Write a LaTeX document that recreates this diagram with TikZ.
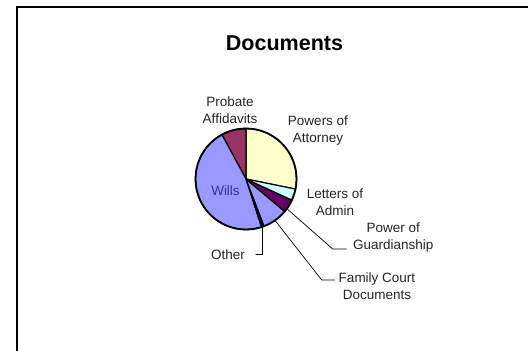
\documentclass[tikz,border=0pt]{standalone}
\usepackage{fontspec}
\setmainfont{Liberation Sans}
\usetikzlibrary{calc}
\definecolor{poa}{HTML}{FFFFCC}
\definecolor{prob}{HTML}{993366}
\definecolor{wills}{HTML}{9999FF}
\definecolor{othr}{HTML}{000080}
\definecolor{guard}{HTML}{660066}
\definecolor{lett}{HTML}{CCFFFF}
\definecolor{willtxt}{HTML}{333399}
\begin{document}
\begin{tikzpicture}[x=1pt,y=1pt,
  lbl/.style={inner sep=0pt,align=center,font=\fontsize{13.5}{17}\selectfont,text=black!85},
  slice/.style={draw=black,line width=1.2pt,line join=round},
  leader/.style={draw=black,line width=0.7pt}]
\useasboundingbox (0,0) rectangle (528,-351);
\fill[white] (0,0) rectangle (528,-351);
% frame
\draw[line width=1.8pt] (17,-351) -- (17,-7.3) -- (528,-7.3);
% title
\node[inner sep=0pt,font=\fontsize{21.5}{24}\selectfont\bfseries] (title) at (284.5,-43) {Documents};
% pie
\coordinate (C) at (246,-179);
\def\R{50.5}
\newcommand\pieslice[3]{\filldraw[slice,fill=#3] (C) -- ++(#1:\R) arc[start angle=#1,end angle=#2,radius=\R] -- cycle;}
\pieslice{-11.5}{90}{poa}
\pieslice{90}{118.5}{prob}
\pieslice{118.5}{288}{wills}
\pieslice{-72}{-69}{othr}
\pieslice{-69}{-40}{wills}
\pieslice{-40}{-24.7}{guard}
\pieslice{-24.7}{-11.5}{lett}
\draw[line width=1.8pt] (C) circle[radius=\R];
% labels
\node[lbl] (prob) at (230,-110.5) {Probate\\Affidavits};
\node[lbl] (poa) at (318,-131) {Powers of\\Attorney};
\node[lbl] (lett) at (335,-202) {Letters of\\Admin};
\node[lbl] (guard) at (393.3,-237.5) {Power of\\Guardianship};
\node[lbl] (fc) at (377,-285.7) {Family Court\\Documents};
\node[lbl,anchor=east] (other) at (245,-254.5) {Other};
\node[lbl,text=willtxt] (wills) at (225.5,-191) {Wills};
% leader lines
\coordinate (gs) at ($(C)+(-36:\R)$);
\coordinate (fs) at ($(C)+(-55:\R)$);
\coordinate (os) at ($(C)+(-71:\R)$);
\coordinate (gb) at (332.7,-249);
\coordinate (ge) at (346.7,-249);
\coordinate (fb) at (321.7,-280);
\coordinate (fe) at (335,-280);
\coordinate (ob) at (262.5,-254.5);
\coordinate (oe) at (255.5,-254.5);
\draw[leader] (gs) -- (gb) -- (ge);
\draw[leader] (fs) -- (fb) -- (fe);
\draw[leader] (os) -- (ob) -- (oe);
\end{tikzpicture}
\end{document}
